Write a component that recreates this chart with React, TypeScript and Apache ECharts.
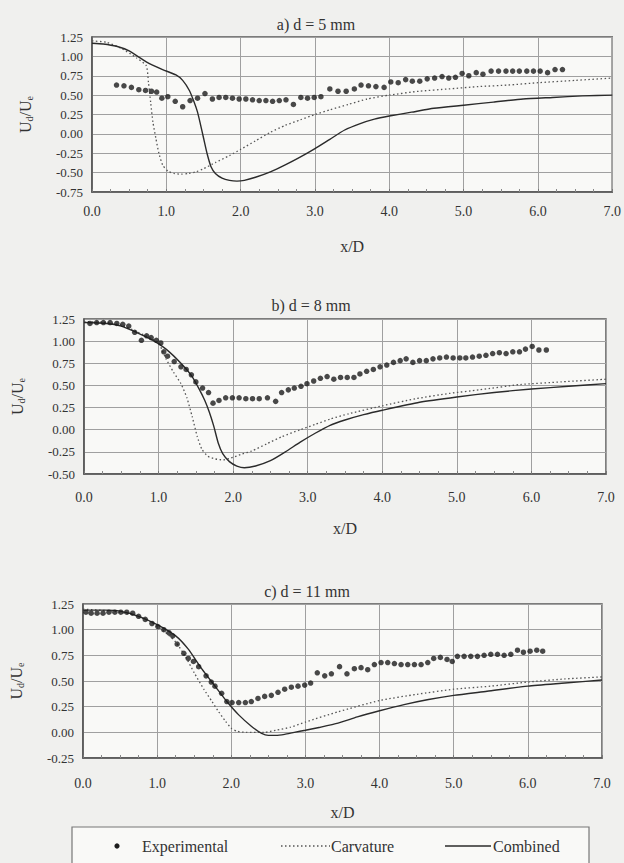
import React, { useEffect, useRef } from 'react';
import * as echarts from 'echarts';

// ---------- data ----------
const panelTitles = ['a) d = 5 mm', 'b) d = 8 mm', 'c) d = 11 mm'];
const yMins = [-0.75, -0.5, -0.25];
const yMax = 1.25;

// Panel a (d = 5 mm)
const expAx = [0.33,0.43,0.53,0.63,0.72,0.80,0.87,0.94,1.02,1.12,1.22,1.32,1.42,1.52,1.62,1.71,1.80,1.89,1.98,2.07,2.16,2.25,2.34,2.43,2.52,2.61,2.71,2.81,2.90,2.99,3.08,3.20,3.31,3.42,3.53,3.62,3.72,3.82,3.93,4.02,4.12,4.22,4.31,4.41,4.51,4.61,4.71,4.80,4.89,4.98,5.07,5.17,5.26,5.37,5.47,5.57,5.66,5.75,5.85,5.94,6.03,6.13,6.23,6.33];
const expAy = [0.63,0.62,0.60,0.57,0.56,0.55,0.54,0.46,0.48,0.42,0.35,0.43,0.46,0.52,0.45,0.47,0.47,0.46,0.45,0.45,0.44,0.43,0.43,0.42,0.43,0.44,0.38,0.47,0.46,0.47,0.48,0.58,0.55,0.55,0.58,0.63,0.62,0.61,0.60,0.67,0.66,0.70,0.68,0.68,0.71,0.72,0.74,0.72,0.73,0.78,0.75,0.79,0.77,0.81,0.81,0.81,0.81,0.81,0.81,0.81,0.81,0.79,0.83,0.83];
const curAx = [0,0.2,0.4,0.6,0.73,0.76,0.79,0.82,0.86,0.9,0.95,1.02,1.1,1.2,1.3,1.4,1.5,1.66,1.85,2.0,2.2,2.4,2.6,2.8,3.0,3.2,3.45,3.7,4.0,4.4,4.8,5.2,5.6,6.0,6.5,7.0];
const curAy = [1.2,1.18,1.1,0.98,0.88,0.66,0.4,0.15,-0.06,-0.25,-0.4,-0.48,-0.51,-0.52,-0.51,-0.49,-0.45,-0.37,-0.28,-0.2,-0.09,0.02,0.11,0.18,0.25,0.31,0.38,0.45,0.5,0.55,0.58,0.61,0.63,0.66,0.69,0.72];
const comAx = [0,0.15,0.33,0.5,0.73,0.95,1.13,1.22,1.31,1.37,1.42,1.46,1.50,1.55,1.6,1.66,1.75,1.85,1.95,2.05,2.2,2.4,2.6,2.8,3.0,3.2,3.4,3.6,3.8,4.0,4.3,4.6,5.0,5.4,5.8,6.2,6.6,7.0];
const comAy = [1.17,1.16,1.13,1.07,0.93,0.83,0.76,0.69,0.56,0.42,0.28,0.12,-0.05,-0.26,-0.42,-0.51,-0.57,-0.6,-0.61,-0.6,-0.56,-0.49,-0.4,-0.3,-0.19,-0.07,0.05,0.13,0.19,0.23,0.28,0.33,0.37,0.41,0.45,0.47,0.49,0.5];

// Panel b (d = 8 mm)
const expBx = [0.08,0.17,0.26,0.35,0.44,0.52,0.60,0.68,0.77,0.84,0.90,0.97,1.03,1.07,1.12,1.21,1.30,1.37,1.44,1.50,1.59,1.67,1.73,1.81,1.90,1.99,2.08,2.17,2.26,2.35,2.46,2.57,2.65,2.74,2.82,2.91,2.99,3.08,3.17,3.26,3.35,3.44,3.53,3.62,3.70,3.79,3.88,3.97,4.06,4.15,4.24,4.32,4.41,4.50,4.59,4.68,4.77,4.86,4.95,5.04,5.12,5.21,5.30,5.39,5.48,5.57,5.66,5.75,5.84,5.92,6.01,6.10,6.20];
const expBy = [1.20,1.21,1.21,1.21,1.20,1.19,1.17,1.10,1.01,1.06,1.04,1.01,0.98,0.88,0.83,0.77,0.71,0.68,0.62,0.54,0.47,0.42,0.30,0.33,0.36,0.36,0.36,0.35,0.35,0.35,0.36,0.32,0.42,0.45,0.47,0.49,0.52,0.55,0.58,0.60,0.57,0.59,0.59,0.59,0.63,0.66,0.68,0.71,0.73,0.76,0.78,0.80,0.76,0.78,0.78,0.80,0.81,0.82,0.81,0.81,0.81,0.82,0.83,0.84,0.86,0.87,0.86,0.88,0.88,0.91,0.94,0.90,0.90];
const curBx = [0,0.3,0.5,0.7,0.9,1.0,1.1,1.2,1.3,1.38,1.45,1.52,1.58,1.66,1.76,1.86,1.97,2.1,2.25,2.45,2.65,2.9,3.1,3.3,3.55,4.0,4.45,4.9,5.3,5.85,6.4,7.0];
const curBy = [1.22,1.21,1.18,1.11,1.03,0.98,0.8,0.65,0.52,0.36,0.15,-0.08,-0.22,-0.3,-0.33,-0.34,-0.32,-0.28,-0.24,-0.16,-0.08,0.0,0.06,0.12,0.18,0.27,0.35,0.41,0.45,0.51,0.54,0.57];
const comBx = [0,0.3,0.5,0.7,0.9,1.1,1.3,1.45,1.55,1.62,1.68,1.74,1.8,1.86,1.95,2.05,2.15,2.3,2.5,2.7,2.9,3.1,3.3,3.5,3.75,4.0,4.5,5.0,5.5,6.0,6.5,7.0];
const comBy = [1.21,1.2,1.17,1.1,1.02,0.91,0.75,0.6,0.45,0.33,0.2,0.04,-0.15,-0.27,-0.36,-0.41,-0.43,-0.41,-0.35,-0.25,-0.14,-0.04,0.05,0.11,0.17,0.22,0.31,0.37,0.42,0.46,0.49,0.52];

// Panel c (d = 11 mm)
const expCx = [0.04,0.11,0.19,0.27,0.35,0.43,0.51,0.59,0.67,0.75,0.84,0.93,1.01,1.09,1.16,1.21,1.27,1.36,1.42,1.49,1.56,1.66,1.73,1.78,1.87,1.94,2.01,2.10,2.19,2.27,2.36,2.45,2.54,2.63,2.72,2.81,2.90,2.99,3.07,3.16,3.26,3.35,3.46,3.56,3.66,3.75,3.84,3.93,4.02,4.11,4.20,4.29,4.38,4.47,4.56,4.65,4.73,4.82,4.91,4.98,5.05,5.14,5.23,5.32,5.41,5.50,5.59,5.68,5.77,5.86,5.94,6.03,6.12,6.20];
const expCy = [1.17,1.16,1.16,1.16,1.17,1.17,1.17,1.17,1.16,1.13,1.10,1.06,1.03,1.00,0.97,0.94,0.86,0.77,0.72,0.69,0.64,0.55,0.49,0.45,0.38,0.30,0.29,0.29,0.29,0.30,0.33,0.35,0.36,0.39,0.42,0.44,0.45,0.46,0.48,0.58,0.55,0.57,0.64,0.57,0.62,0.63,0.61,0.66,0.68,0.68,0.67,0.66,0.66,0.66,0.66,0.68,0.72,0.73,0.71,0.69,0.74,0.74,0.74,0.74,0.75,0.76,0.76,0.75,0.76,0.80,0.78,0.79,0.80,0.79];
const curCx = [0,0.4,0.7,0.9,1.1,1.25,1.38,1.5,1.63,1.74,1.83,1.92,2.0,2.08,2.2,2.45,2.6,2.8,3.0,3.44,4.0,4.5,5.0,5.5,6.0,6.5,7.0];
const curCy = [1.2,1.18,1.14,1.08,0.98,0.88,0.74,0.58,0.42,0.3,0.2,0.11,0.04,0.01,0.0,0.0,0.02,0.05,0.1,0.2,0.31,0.37,0.42,0.45,0.49,0.52,0.54];
const comCx = [0,0.3,0.5,0.75,1.0,1.25,1.42,1.6,1.78,1.94,2.1,2.27,2.41,2.5,2.6,2.72,2.85,3.0,3.2,3.44,3.7,4.0,4.33,4.66,5.0,5.45,6.0,6.5,7.0];
const comCy = [1.19,1.19,1.18,1.13,1.05,0.94,0.81,0.62,0.45,0.30,0.17,0.06,-0.01,-0.03,-0.03,-0.02,0.0,0.02,0.05,0.09,0.15,0.21,0.27,0.32,0.36,0.40,0.45,0.48,0.51];

const experimental = [[expAx, expAy], [expBx, expBy], [expCx, expCy]];
const carvature = [[curAx, curAy], [curBx, curBy], [curCx, curCy]];
const combined = [[comAx, comAy], [comBx, comBy], [comCx, comCy]];
const legendNames = ['Experimental', 'Carvature', 'Combined'];

// ---------- layout ----------
const FONT = '"Liberation Serif", "DejaVu Serif", serif';
const TXT = '#333';
const grids = [
  { left: 92, top: 37, width: 525, height: 155 },
  { left: 84, top: 319, width: 522, height: 155 },
  { left: 81, top: 604, width: 521, height: 154 },
];
const labelMargins = [12, 16, 18];
const titlePos = [[316, 24], [311, 305], [307, 591]];

const zip = (xs: number[], ys: number[]) => xs.map((x, i) => [x, ys[i]]);

function buildOption() {
  const xAxis: any[] = [];
  const yAxis: any[] = [];
  const series: any[] = [];
  const graphic: any[] = [];
  grids.forEach((g, i) => {
    xAxis.push({
      type: 'value', gridIndex: i, min: 0, max: 7, interval: 1,
      axisLine: { show: true, onZero: false, lineStyle: { color: '#555', width: 1.5 } },
      axisTick: { show: true, inside: true, length: 3, lineStyle: { color: '#777' } },
      minorTick: { show: true, splitNumber: 4, length: 3, lineStyle: { color: '#888' } },
      splitLine: { show: true, lineStyle: { color: '#a0a0a0', width: 1 } },
      axisLabel: { formatter: (v: number) => v.toFixed(1), fontSize: 14, color: TXT, fontFamily: FONT, margin: labelMargins[i] },
      name: 'x/D', nameLocation: 'middle', nameGap: 46,
      nameTextStyle: { fontSize: 16, color: TXT, fontFamily: FONT },
    });
    yAxis.push({
      type: 'value', gridIndex: i, min: yMins[i], max: yMax, interval: 0.25,
      axisLine: { show: true, onZero: false, lineStyle: { color: '#555', width: 1.5 } },
      axisTick: { show: false },
      splitLine: { show: true, lineStyle: { color: '#a0a0a0', width: 1 } },
      axisLabel: { formatter: (v: number) => v.toFixed(2), fontSize: 13, color: TXT, fontFamily: FONT, margin: 9 },
      name: '{m|U}{s|d}{m|/U}{s|e}', nameLocation: 'middle', nameGap: 58,
      nameTextStyle: {
        color: TXT, fontFamily: FONT,
        rich: {
          m: { fontSize: 16, fontFamily: FONT, color: TXT },
          s: { fontSize: 10, fontFamily: FONT, color: TXT, verticalAlign: 'bottom', padding: [8, 0, 0, 0] },
        },
      },
    });
    const [ex, ey] = experimental[i];
    const [cx, cy] = carvature[i];
    const [mx, my] = combined[i];
    series.push({
      name: legendNames[2], type: 'line', xAxisIndex: i, yAxisIndex: i, data: zip(mx, my),
      showSymbol: false, smooth: 0.2, lineStyle: { color: '#2b2b2b', width: 1.4 }, z: 3,
    });
    series.push({
      name: legendNames[1], type: 'line', xAxisIndex: i, yAxisIndex: i, data: zip(cx, cy),
      showSymbol: false, smooth: 0.2, lineStyle: { color: '#555', width: 1.3, type: [1.5, 2.5] }, z: 2,
    });
    series.push({
      name: legendNames[0], type: 'scatter', xAxisIndex: i, yAxisIndex: i, data: zip(ex, ey),
      symbol: 'circle', symbolSize: 5.5, itemStyle: { color: '#1c1c1c' }, z: 4,
    });
    graphic.push({
      type: 'text', x: titlePos[i][0], y: titlePos[i][1],
      style: { text: panelTitles[i], fontSize: 16, fontFamily: FONT, fill: TXT, textAlign: 'center', textVerticalAlign: 'middle' },
    });
  });

  // legend box (drawn)
  const ly = 846;
  graphic.push({ type: 'rect', shape: { x: 72, y: 827, width: 517, height: 40 }, style: { fill: '#f9f9f7', stroke: '#777', lineWidth: 1.2 } });
  graphic.push({ type: 'circle', shape: { cx: 117, cy: ly, r: 2.6 }, style: { fill: '#1c1c1c' } });
  graphic.push({ type: 'text', x: 142, y: ly, style: { text: legendNames[0], fontSize: 16, fontFamily: FONT, fill: TXT, textVerticalAlign: 'middle' } });
  graphic.push({ type: 'line', shape: { x1: 281, y1: ly, x2: 330, y2: ly }, style: { stroke: '#555', lineWidth: 1.3, lineDash: [1.5, 2.5] } });
  graphic.push({ type: 'text', x: 331, y: ly, style: { text: legendNames[1], fontSize: 16, fontFamily: FONT, fill: TXT, textVerticalAlign: 'middle' } });
  graphic.push({ type: 'line', shape: { x1: 445, y1: ly, x2: 491, y2: ly }, style: { stroke: '#2b2b2b', lineWidth: 1.4 } });
  graphic.push({ type: 'text', x: 493, y: ly, style: { text: legendNames[2], fontSize: 16, fontFamily: FONT, fill: TXT, textVerticalAlign: 'middle' } });

  return {
    animation: false,
    backgroundColor: '#f0f0ee',
    textStyle: { fontFamily: FONT },
    grid: grids.map((g) => ({ ...g, show: true, borderColor: '#555', borderWidth: 1.5, backgroundColor: '#f9f9f7' })),
    xAxis, yAxis, series, graphic,
  };
}

export default function App() {
  const ref = useRef<HTMLDivElement>(null);
  useEffect(() => {
    if (!ref.current) return;
    const chart = echarts.init(ref.current, undefined, { renderer: 'svg' });
    chart.setOption(buildOption() as any);
    return () => chart.dispose();
  }, []);
  return <div ref={ref} style={{ position: 'absolute', left: 0, top: 0, width: 624, height: 863 }} />;
}
